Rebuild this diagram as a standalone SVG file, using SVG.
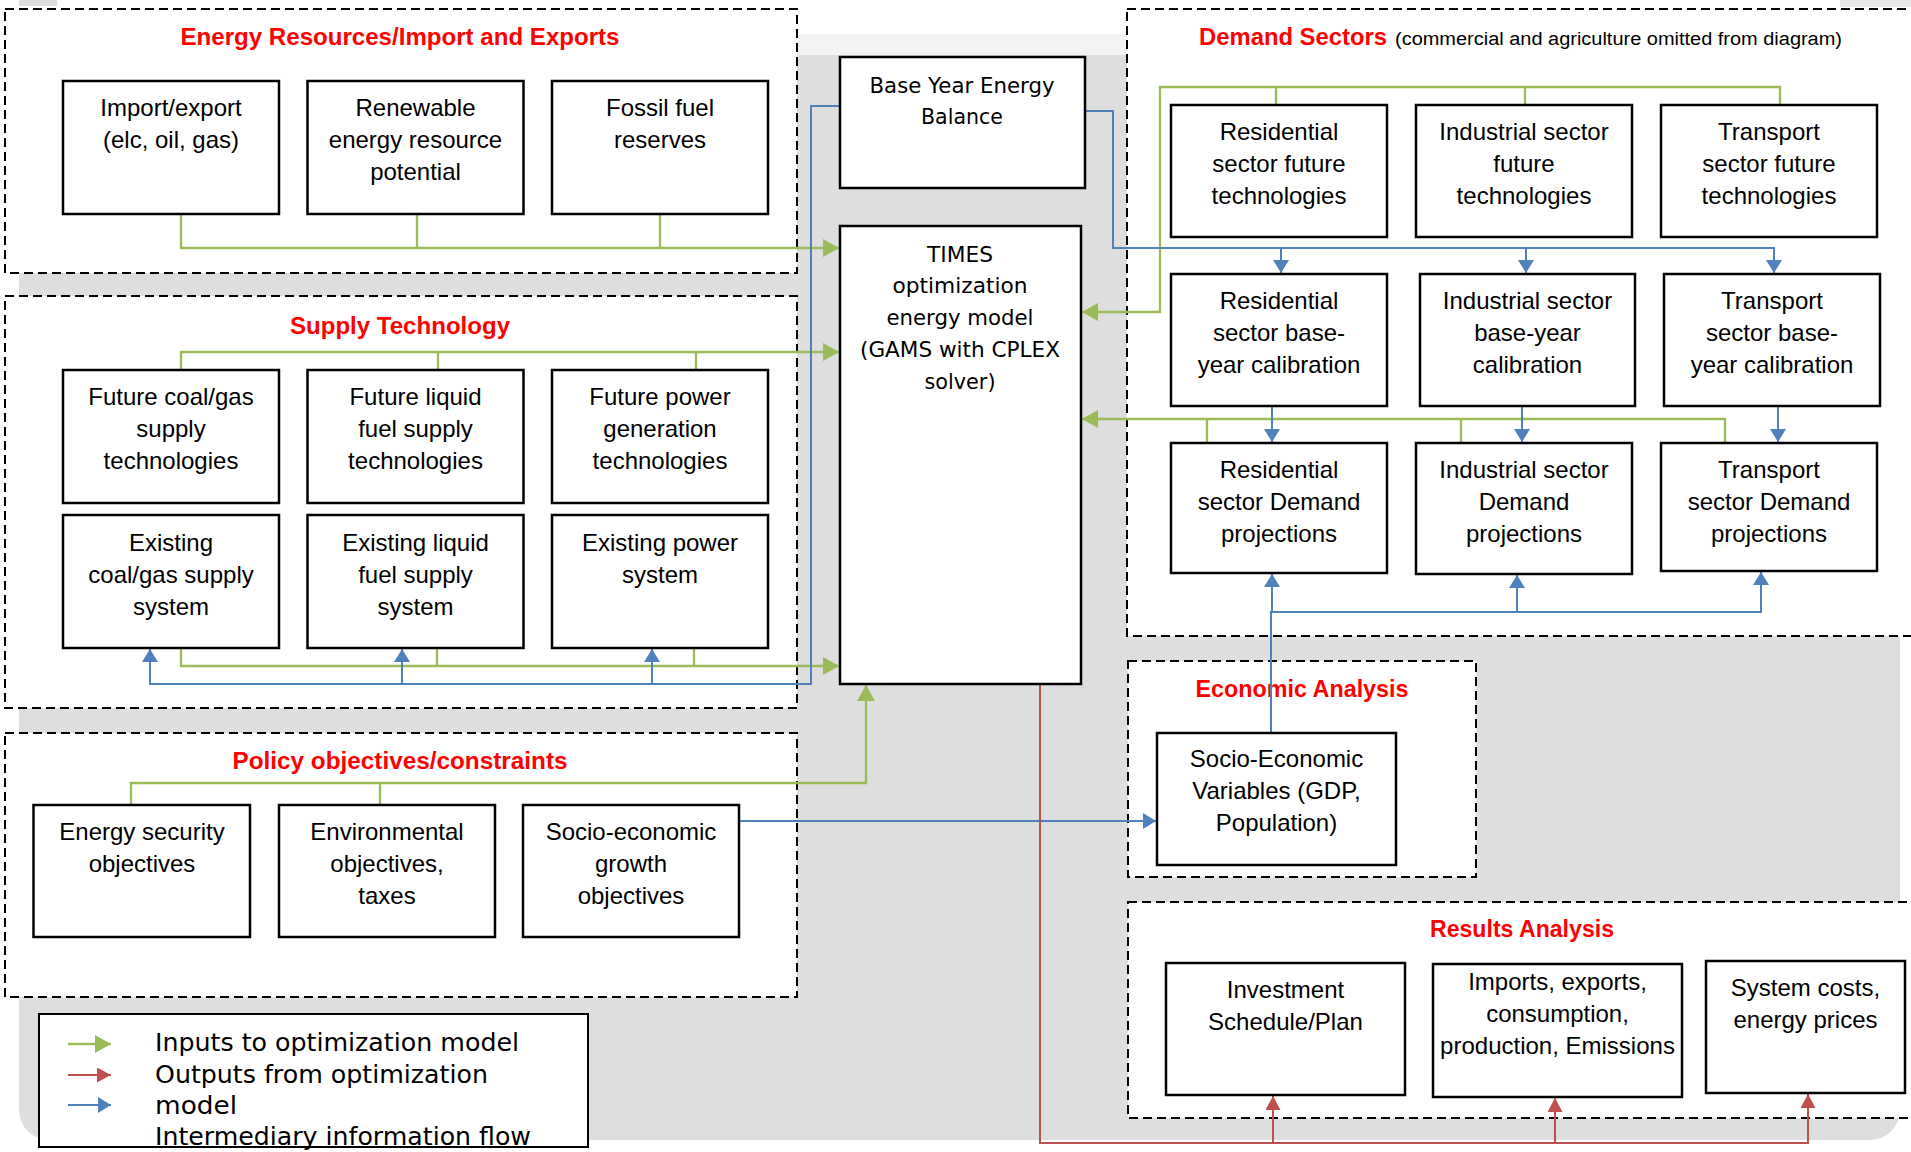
<svg xmlns="http://www.w3.org/2000/svg" width="1911" height="1152" viewBox="0 0 1911 1152">
<defs>
<style>
.cont{fill:#fff;stroke:#000;stroke-width:2;stroke-dasharray:9 5}
.box{fill:#fff;stroke:#000;stroke-width:2.5}
.t{font-family:"Liberation Sans",Arial,sans-serif;font-size:24px;text-anchor:middle;fill:#000}
.ttl{font-family:"Liberation Sans",Arial,sans-serif;font-size:24px;font-weight:bold;text-anchor:middle;fill:#ff0000}
.gt{font-family:"DejaVu Sans",sans-serif;font-size:21px;text-anchor:middle;fill:#000}
.lg{font-family:"DejaVu Sans",sans-serif;font-size:25px;fill:#000}
.g{fill:none;stroke:#9bbb59;stroke-width:2.3}
.b{fill:none;stroke:#4f81bd;stroke-width:2}
.r{fill:none;stroke:#c0504d;stroke-width:2}
.ga{marker-end:url(#ag)}
.ba{marker-end:url(#ab)}
.ra{marker-end:url(#ar)}
</style>
<marker id="ag" markerUnits="userSpaceOnUse" markerWidth="16" markerHeight="18" refX="16" refY="9" orient="auto"><path d="M0,0 L16,9 L0,18 z" fill="#9bbb59"/></marker>
<marker id="ab" markerUnits="userSpaceOnUse" markerWidth="13" markerHeight="16" refX="13" refY="8" orient="auto"><path d="M0,0 L13,8 L0,16 z" fill="#4f81bd"/></marker>
<marker id="ar" markerUnits="userSpaceOnUse" markerWidth="14" markerHeight="15" refX="14" refY="7.5" orient="auto"><path d="M0,0 L14,7.5 L0,15 z" fill="#c0504d"/></marker>
</defs>
<rect x="0" y="0" width="1911" height="1152" fill="#fff"/>
<g id="background">
<rect x="19" y="34" width="1881" height="1106" rx="30" fill="#dedede"/>
<rect x="19" y="34" width="1881" height="21" fill="#f3f3f3"/>
<rect x="19" y="0" width="38" height="6" fill="#dedede"/>
<rect x="1840" y="0" width="71" height="7" fill="#e6e6e6"/>
</g>
<g id="containers">
<g id="grp-energy"><rect class="cont" x="5" y="9" width="792" height="264"/><text class="ttl" x="400" y="45" textLength="439" lengthAdjust="spacingAndGlyphs">Energy Resources/Import and Exports</text></g>
<g id="grp-supply"><rect class="cont" x="5" y="296" width="792" height="412"/><text class="ttl" x="400" y="334" textLength="220" lengthAdjust="spacingAndGlyphs">Supply Technology</text></g>
<g id="grp-policy"><rect class="cont" x="5" y="733" width="792" height="264"/><text class="ttl" x="400" y="769" textLength="335" lengthAdjust="spacingAndGlyphs">Policy objectives/constraints</text></g>
<g id="grp-demand"><rect class="cont" x="1127" y="9" width="800" height="627"/><text class="ttl" x="1293" y="45" textLength="188" lengthAdjust="spacingAndGlyphs">Demand Sectors</text><text x="1395" y="45" font-family="Liberation Sans, Arial, sans-serif" font-size="18" fill="#000" textLength="447" lengthAdjust="spacingAndGlyphs">(commercial and agriculture omitted from diagram)</text></g>
<g id="grp-econ"><rect class="cont" x="1128" y="661" width="348" height="216"/><text class="ttl" x="1302" y="697" textLength="213" lengthAdjust="spacingAndGlyphs">Economic Analysis</text></g>
<g id="grp-results"><rect class="cont" x="1128" y="902" width="800" height="216"/><text class="ttl" x="1522" y="937" textLength="184" lengthAdjust="spacingAndGlyphs">Results Analysis</text></g>
</g>
<g id="connectors">
<path class="g" d="M417,213 V248"/><path class="g" d="M660,213 V248"/><path class="g ga" d="M181,213 V248 H839"/>
<path class="g" d="M438,370 V352"/><path class="g" d="M696,370 V352"/><path class="g ga" d="M181,370 V352 H839"/>
<path class="g" d="M437,648 V666"/><path class="g" d="M694,648 V666"/><path class="g ga" d="M181,648 V666 H839"/>
<path class="b ba" d="M840,106 H811 V684 H150 V649"/><path class="b ba" d="M402,684 V649"/><path class="b ba" d="M652,684 V649"/>
<path class="g" d="M380,805 V783"/><path class="g ga" d="M131,805 V783 H866 V685"/>
<path class="g" d="M1276,105 V87"/><path class="g" d="M1525,105 V87"/><path class="g ga" d="M1780,104 V87 H1160 V312 H1082"/>
<path class="g" d="M1207,443 V419"/><path class="g" d="M1461,443 V419"/><path class="g ga" d="M1725,443 V419 H1082"/>
<path class="b ba" d="M1085,111 H1113 V248 H1774 V273"/><path class="b ba" d="M1281,248 V273"/><path class="b ba" d="M1526,248 V273"/>
<path class="b ba" d="M1272,406 V442"/><path class="b ba" d="M1522,406 V442"/><path class="b ba" d="M1778,406 V442"/>
<path class="b ba" d="M1271,733 V612 H1761 V572"/><path class="b ba" d="M1272,612 V574"/><path class="b ba" d="M1517,612 V575"/>
<path class="b ba" d="M739,821 H1156"/>
<path class="r ra" d="M1040,684 V1143 H1808 V1094"/><path class="r ra" d="M1273,1143 V1096"/><path class="r ra" d="M1555,1143 V1098"/>
</g>
<g id="n-import"><rect class="box" x="63" y="81" width="216" height="133"/><text class="t" x="171" y="116">Import/export</text><text class="t" x="171" y="148">(elc, oil, gas)</text></g>
<g id="n-renewable"><rect class="box" x="307.5" y="81" width="216" height="133"/><text class="t" x="415.5" y="116">Renewable</text><text class="t" x="415.5" y="148">energy resource</text><text class="t" x="415.5" y="180">potential</text></g>
<g id="n-fossil"><rect class="box" x="552" y="81" width="216" height="133"/><text class="t" x="660" y="116">Fossil fuel</text><text class="t" x="660" y="148">reserves</text></g>
<g id="n-future-coal"><rect class="box" x="63" y="370" width="216" height="133"/><text class="t" x="171" y="405">Future coal/gas</text><text class="t" x="171" y="437">supply</text><text class="t" x="171" y="469">technologies</text></g>
<g id="n-future-liquid"><rect class="box" x="307.5" y="370" width="216" height="133"/><text class="t" x="415.5" y="405">Future liquid</text><text class="t" x="415.5" y="437">fuel supply</text><text class="t" x="415.5" y="469">technologies</text></g>
<g id="n-future-power"><rect class="box" x="552" y="370" width="216" height="133"/><text class="t" x="660" y="405">Future power</text><text class="t" x="660" y="437">generation</text><text class="t" x="660" y="469">technologies</text></g>
<g id="n-exist-coal"><rect class="box" x="63" y="515" width="216" height="133"/><text class="t" x="171" y="551">Existing</text><text class="t" x="171" y="583">coal/gas supply</text><text class="t" x="171" y="615">system</text></g>
<g id="n-exist-liquid"><rect class="box" x="307.5" y="515" width="216" height="133"/><text class="t" x="415.5" y="551">Existing liquid</text><text class="t" x="415.5" y="583">fuel supply</text><text class="t" x="415.5" y="615">system</text></g>
<g id="n-exist-power"><rect class="box" x="552" y="515" width="216" height="133"/><text class="t" x="660" y="551">Existing power</text><text class="t" x="660" y="583">system</text></g>
<g id="n-security"><rect class="box" x="33.5" y="805" width="216.5" height="132"/><text class="t" x="142" y="840">Energy security</text><text class="t" x="142" y="872">objectives</text></g>
<g id="n-environment"><rect class="box" x="279" y="805" width="216" height="132"/><text class="t" x="387" y="840">Environmental</text><text class="t" x="387" y="872">objectives,</text><text class="t" x="387" y="904">taxes</text></g>
<g id="n-socio-growth"><rect class="box" x="523" y="805" width="216" height="132"/><text class="t" x="631" y="840">Socio-economic</text><text class="t" x="631" y="872">growth</text><text class="t" x="631" y="904">objectives</text></g>
<g id="n-base-year"><rect class="box" x="840" y="57" width="245" height="131"/><text class="gt" x="962" y="93" textLength="185" lengthAdjust="spacingAndGlyphs">Base Year Energy</text><text class="gt" x="962" y="124" textLength="82" lengthAdjust="spacingAndGlyphs">Balance</text></g>
<g id="n-times"><rect class="box" x="840" y="226" width="241" height="458"/><text class="gt" x="960" y="262" textLength="66" lengthAdjust="spacingAndGlyphs">TIMES</text><text class="gt" x="960" y="293" textLength="135" lengthAdjust="spacingAndGlyphs">optimization</text><text class="gt" x="960" y="325" textLength="147" lengthAdjust="spacingAndGlyphs">energy model</text><text class="gt" x="960" y="357" textLength="200" lengthAdjust="spacingAndGlyphs">(GAMS with CPLEX</text><text class="gt" x="960" y="389" textLength="71" lengthAdjust="spacingAndGlyphs">solver)</text></g>
<g id="n-res-future"><rect class="box" x="1171" y="105" width="216" height="132"/><text class="t" x="1279" y="140">Residential</text><text class="t" x="1279" y="172">sector future</text><text class="t" x="1279" y="204">technologies</text></g>
<g id="n-ind-future"><rect class="box" x="1416" y="105" width="216" height="132"/><text class="t" x="1524" y="140">Industrial sector</text><text class="t" x="1524" y="172">future</text><text class="t" x="1524" y="204">technologies</text></g>
<g id="n-tra-future"><rect class="box" x="1661" y="105" width="216" height="132"/><text class="t" x="1769" y="140">Transport</text><text class="t" x="1769" y="172">sector future</text><text class="t" x="1769" y="204">technologies</text></g>
<g id="n-res-base"><rect class="box" x="1171" y="274" width="216" height="132"/><text class="t" x="1279" y="309">Residential</text><text class="t" x="1279" y="341">sector base-</text><text class="t" x="1279" y="373">year calibration</text></g>
<g id="n-ind-base"><rect class="box" x="1420" y="274" width="215" height="132"/><text class="t" x="1527.5" y="309">Industrial sector</text><text class="t" x="1527.5" y="341">base-year</text><text class="t" x="1527.5" y="373">calibration</text></g>
<g id="n-tra-base"><rect class="box" x="1664" y="274" width="216" height="132"/><text class="t" x="1772" y="309">Transport</text><text class="t" x="1772" y="341">sector base-</text><text class="t" x="1772" y="373">year calibration</text></g>
<g id="n-res-demand"><rect class="box" x="1171" y="443" width="216" height="130"/><text class="t" x="1279" y="478">Residential</text><text class="t" x="1279" y="510">sector Demand</text><text class="t" x="1279" y="542">projections</text></g>
<g id="n-ind-demand"><rect class="box" x="1416" y="443" width="216" height="131"/><text class="t" x="1524" y="478">Industrial sector</text><text class="t" x="1524" y="510">Demand</text><text class="t" x="1524" y="542">projections</text></g>
<g id="n-tra-demand"><rect class="box" x="1661" y="443" width="216" height="128"/><text class="t" x="1769" y="478">Transport</text><text class="t" x="1769" y="510">sector Demand</text><text class="t" x="1769" y="542">projections</text></g>
<g id="n-socio-vars"><rect class="box" x="1157" y="733" width="239" height="132"/><text class="t" x="1276.5" y="767">Socio-Economic</text><text class="t" x="1276.5" y="799">Variables (GDP,</text><text class="t" x="1276.5" y="831">Population)</text></g>
<g id="n-investment"><rect class="box" x="1166" y="963" width="239" height="132"/><text class="t" x="1285.5" y="998">Investment</text><text class="t" x="1285.5" y="1030">Schedule/Plan</text></g>
<g id="n-imports"><rect class="box" x="1433" y="964" width="249" height="133"/><text class="t" x="1557.5" y="990">Imports, exports,</text><text class="t" x="1557.5" y="1022">consumption,</text><text class="t" x="1557.5" y="1054">production, Emissions</text></g>
<g id="n-costs"><rect class="box" x="1706" y="961" width="199" height="132"/><text class="t" x="1805.5" y="996">System costs,</text><text class="t" x="1805.5" y="1028">energy prices</text></g>
<g id="legend">
<rect x="39" y="1014" width="549" height="133" fill="#fff" stroke="#000" stroke-width="2"/>
<path class="g ga" d="M68,1044 H111"/>
<path class="r ra" d="M68,1075 H111"/>
<path class="b ba" d="M68,1105 H111"/>
<text class="lg" x="155" y="1051" textLength="364" lengthAdjust="spacingAndGlyphs">Inputs to optimization model</text>
<text class="lg" x="155" y="1083" textLength="333" lengthAdjust="spacingAndGlyphs">Outputs from optimization</text>
<text class="lg" x="155" y="1114" textLength="82" lengthAdjust="spacingAndGlyphs">model</text>
<text class="lg" x="155" y="1145" textLength="376" lengthAdjust="spacingAndGlyphs">Intermediary information flow</text>
</g>
</svg>
